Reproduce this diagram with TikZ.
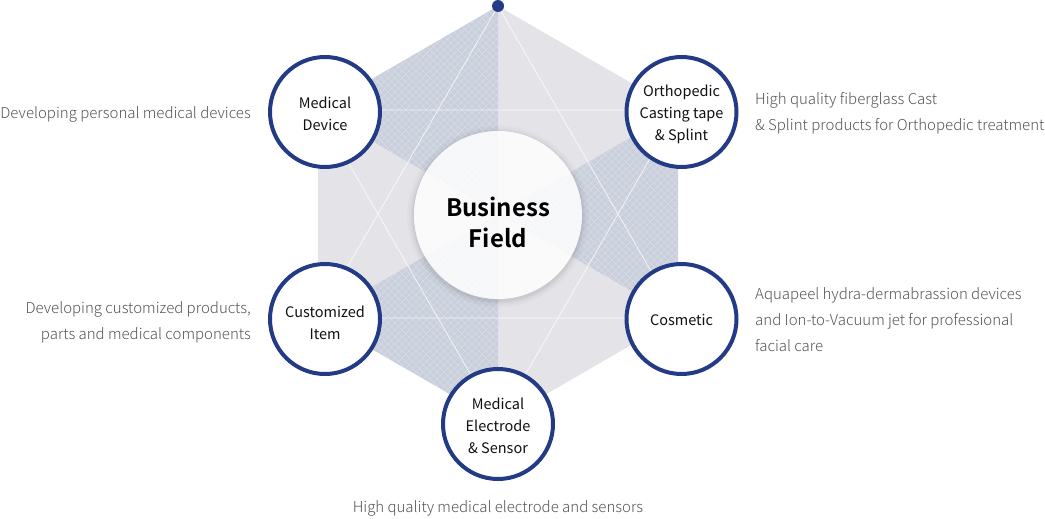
\documentclass[tikz,border=0pt]{standalone}
\usepackage{fontspec}
\setmainfont{Noto Sans CJK KR}[BoldFont={Noto Sans CJK KR Bold}]
\newfontfamily\lightfont{Noto Sans CJK KR Light}
\definecolor{navy}{HTML}{233A85}
\definecolor{sblue}{HTML}{C9D0DC}
\definecolor{sgray}{HTML}{E4E4E8}
\definecolor{desc}{HTML}{555555}
\definecolor{lbl}{HTML}{111111}
\tikzset{
  bluesec/.style={fill=sblue},
  graysec/.style={fill=sgray},
  hatchline/.style={draw=white, line width=0.5pt, draw opacity=0.25},
  starline/.style={draw=white, line width=0.8pt, draw opacity=0.75},
  field/.style={circle, draw=navy, line width=4pt, fill=white, minimum size=110pt,
    inner sep=0pt},
  center circle/.style={circle, fill=white, fill opacity=0.85,
    minimum size=168pt, inner sep=0pt},
  centertext/.style={inner sep=0pt, align=center, text=black,
    font=\bfseries\fontsize{24}{31}\selectfont},
  topdot/.style={circle, fill=navy, minimum size=12pt, inner sep=0pt},
  desctext/.style={inner sep=0pt, text=desc, font=\lightfont\fontsize{15}{26}\selectfont}
}
\begin{document}
\begin{tikzpicture}[x=1pt,y=-1pt]
\useasboundingbox (0,0) rectangle (1045,519);
\coordinate (C) at (498,214);
\coordinate (T) at (498,6);
\coordinate (UL) at (318,110);
\coordinate (UR) at (678,110);
\coordinate (LL) at (318,318);
\coordinate (LR) at (678,318);
\coordinate (B) at (498,422);
% sectors
\fill[graysec] (C) -- (T) -- (UR) -- cycle;
\fill[graysec] (C) -- (LR) -- (B) -- cycle;
\fill[graysec] (C) -- (LL) -- (UL) -- cycle;
\fill[bluesec] (C) -- (T) -- (UL) -- cycle;
\fill[bluesec] (C) -- (UR) -- (LR) -- cycle;
\fill[bluesec] (C) -- (LL) -- (B) -- cycle;
% fine diagonal grid on the blue sectors
\begin{scope}
  \clip (C) -- (T) -- (UL) -- cycle (C) -- (UR) -- (LR) -- cycle (C) -- (LL) -- (B) -- cycle;
  \foreach \i in {-500,-493,...,1100}
    \draw[hatchline] (\i,0) -- ++(-450,450) (\i-450,0) -- ++(450,450);
\end{scope}
% hexagram lines
\draw[starline] (T) -- (LL) -- (LR) -- cycle;
\draw[starline] (UL) -- (UR) -- (B) -- cycle;
% soft shadow ring of the central circle
\foreach \r/\o in {91/0.015, 89/0.02, 87/0.03, 85.5/0.04}
  \fill[black, opacity=\o, even odd rule] (498,216.5) circle (\r) (498,215) circle (84);
\node[center circle] (bf) at (498,215) {};
\node[centertext] (bft) at (498,222.5) {Business\\Field};
\node[topdot] (top) at (T) {};
% field circles
\node[field] (md) at (325,112) {};
\node[field] (or) at (681.5,112) {};
\node[field] (ci) at (325,319) {};
\node[field] (co) at (681.5,319) {};
\node[field] (me) at (498,424) {};
\begin{scope}[every node/.style={inner sep=0pt, align=center, text=lbl, font=\fontsize{14.5}{22}\selectfont}]
\node (mdt) at (325,114) {Medical\\Device};
\node (ort) at (681.5,114.5) {Orthopedic\\Casting tape\\\& Splint};
\node (cit) at (325,323) {Customized\\Item};
\node (cot) at (681.5,320) {Cosmetic};
\node (met) at (498,426) {Medical\\Electrode\\\& Sensor};
\end{scope}
% descriptions
\node[desctext, anchor=east, align=right] (dmd) at (251,114) {Developing personal medical devices};
\node[desctext, anchor=east, align=right] (dci) at (251,322) {Developing customized products,\\parts and medical components};
\node[desctext, anchor=west, align=left] (dor) at (755,113.5) {High quality fiberglass Cast\\\& Splint products for Orthopedic treatment};
\node[desctext, anchor=west, align=left] (dco) at (755,320) {Aquapeel hydra-dermabrassion devices\\and Ion-to-Vacuum jet for professional\\facial care};
\node[desctext] (dme) at (498,508) {High quality medical electrode and sensors};
\end{tikzpicture}
\end{document}
